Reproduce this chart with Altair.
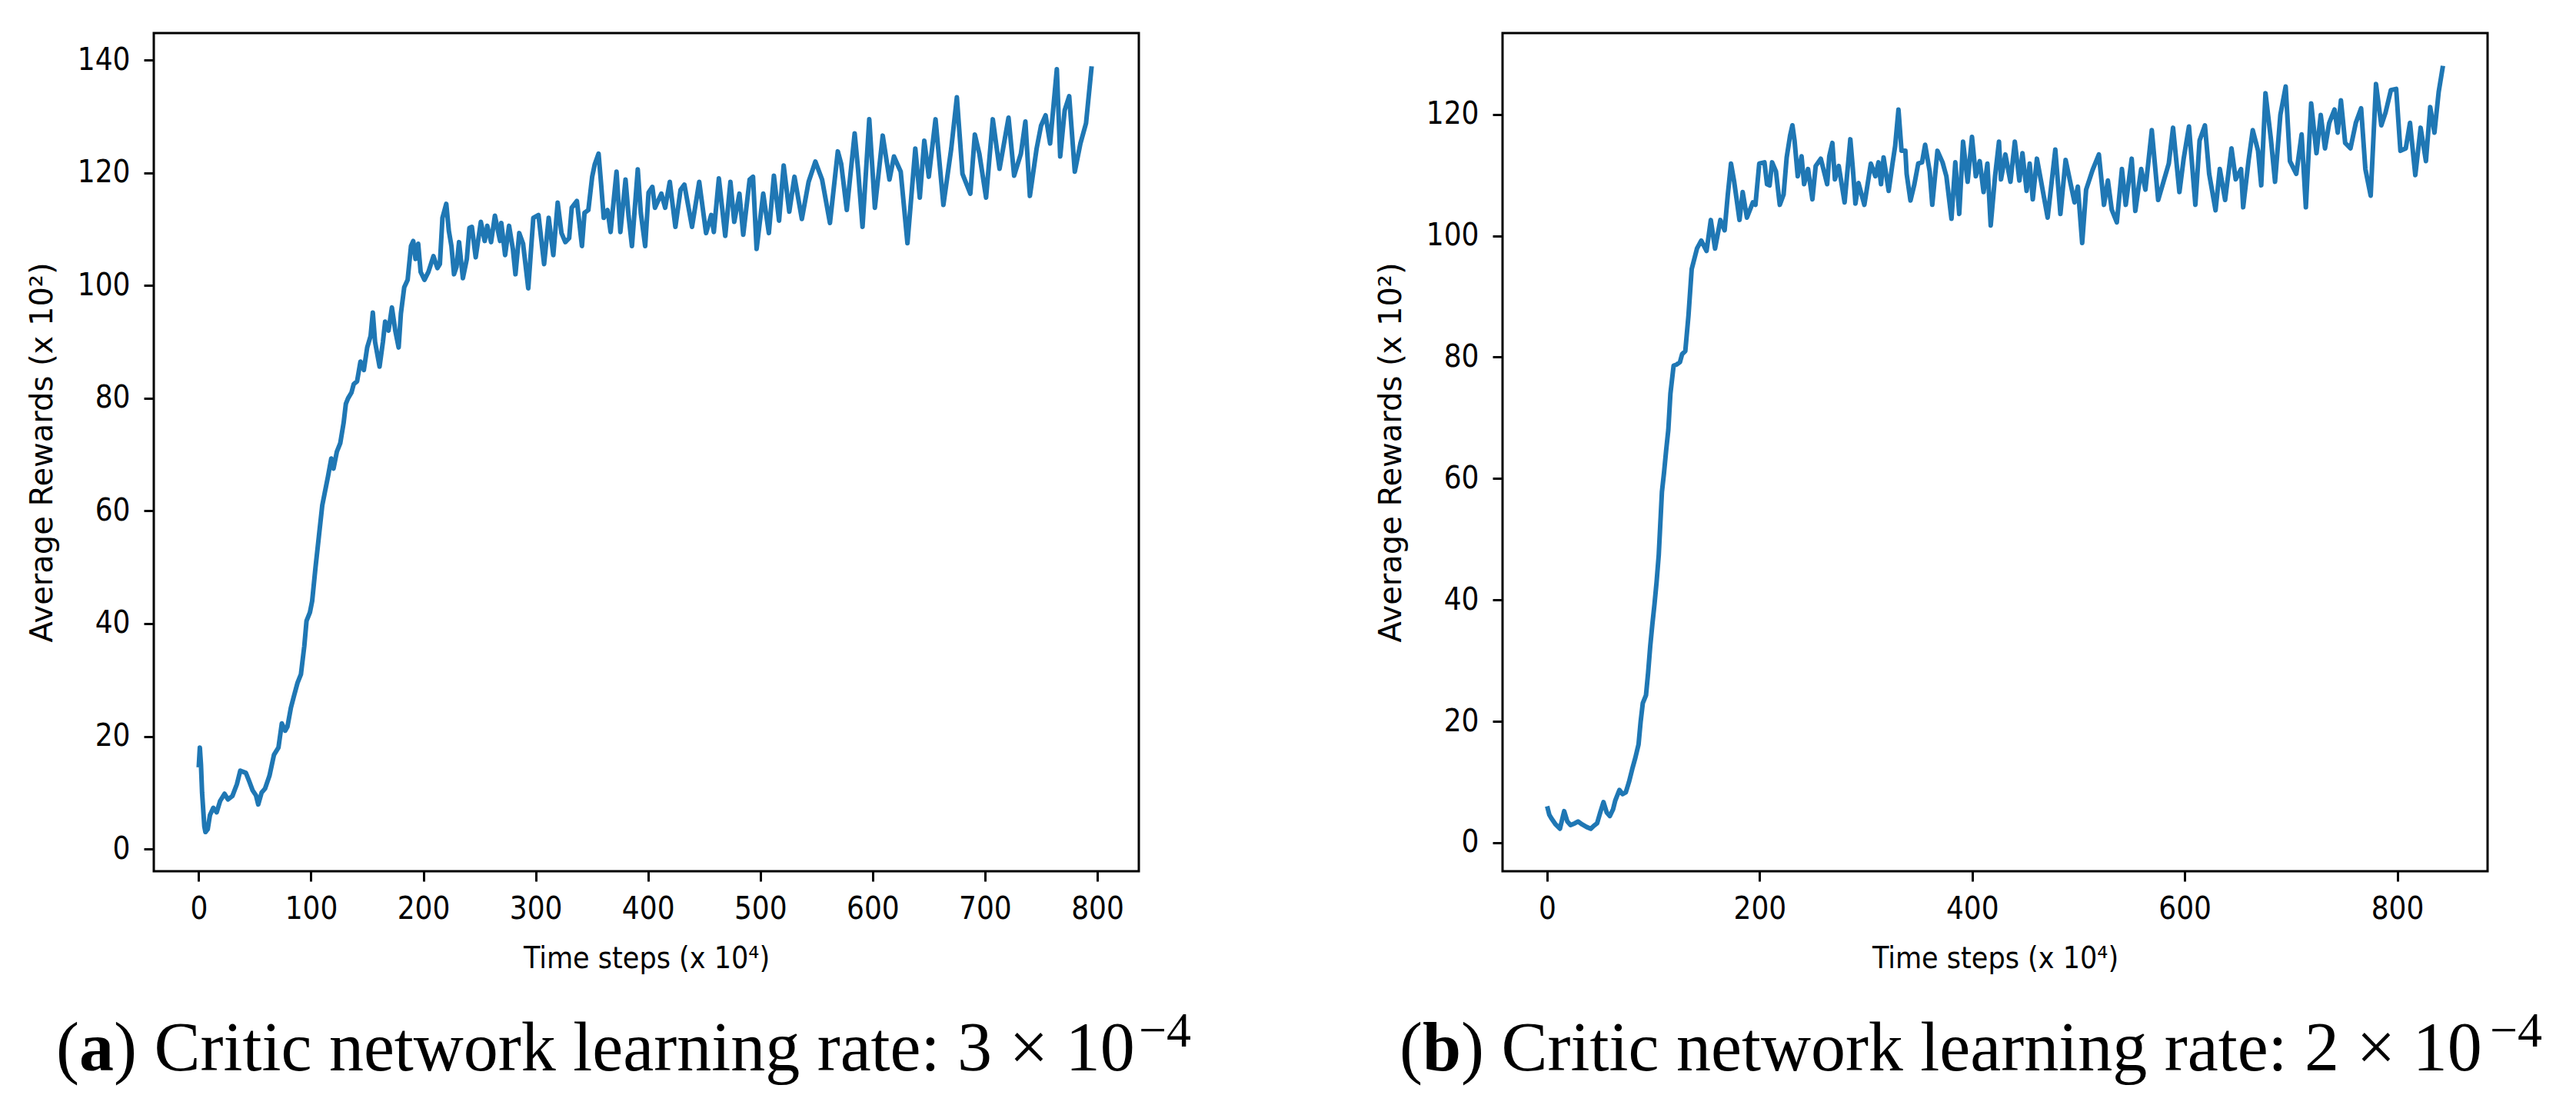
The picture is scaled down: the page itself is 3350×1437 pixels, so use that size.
import altair as alt
import pandas as pd

# ---------------- data ----------------
# panel (a): (time step x 10^4, average reward x 10^2)
LEFT_POINTS = [
    (0, 14.5), (1, 18.0), (2, 15.0), (3, 10.0), (5, 4.0), (6, 3.0), (8, 3.5), (10, 6.0), (13, 7.3), (16, 6.5),
    (19, 8.5), (23, 9.8), (26, 8.8), (30, 9.4), (34, 11.5), (37, 13.9), (42, 13.5), (45, 12.0), (48, 10.4), (51, 9.5),
    (53, 7.9), (56, 10.0), (59, 10.7), (63, 13.0), (67, 16.7), (71, 18.0), (74, 22.3), (77, 21.0), (79, 21.7), (82, 25.0),
    (85, 27.3), (88, 29.5), (91, 31.0), (94, 36.0), (96, 40.5), (99, 42.0), (101, 44.0), (104, 50.0), (107, 55.5), (110, 61.0),
    (112, 63.0), (115, 66.0), (118, 69.3), (120, 67.5), (123, 70.5), (126, 72.0), (129, 75.6), (131, 79.0), (133, 80.0), (136, 81.0),
    (138, 82.5), (141, 83.0), (144, 86.5), (147, 85.0), (150, 89.0), (153, 91.0), (155, 95.2), (157, 90.0), (161, 85.6), (164, 90.0),
    (166, 93.6), (169, 92.0), (172, 96.1), (175, 92.0), (178, 89.0), (180, 95.0), (183, 99.7), (186, 101.0), (189, 107.0),
    (191, 107.9), (193, 104.7), (195.4, 107.4), (197.6, 102.4), (201, 101.0), (204.5, 102.4), (209, 105.2), (212.5, 103.1),
    (214.7, 103.8), (217, 112.0), (220.4, 114.5), (222.7, 109.7), (225, 107.0), (227.3, 102.0), (229.5, 103.3), (231.8, 107.7),
    (235.2, 101.3), (238.7, 104.7), (241, 110.2), (243.2, 110.4), (246.6, 105.0), (251.2, 111.3), (254.6, 107.9), (256.9, 110.6),
    (260.3, 107.7), (263.7, 112.4), (268.3, 107.9), (269.4, 111.1), (272.8, 105.4), (276.3, 110.6), (279.7, 106.5), (282, 102.0),
    (285.4, 109.3), (288.8, 107.4), (293.4, 99.5), (297.9, 112.0), (302.5, 112.5), (307.5, 103.8), (311.6, 112.0), (315.7, 105.4),
    (319.6, 114.7), (323, 109.3), (326.4, 107.7), (329.8, 108.4), (332.1, 113.8), (336.7, 115.0), (341.2, 107.0), (343.5, 112.9),
    (346.9, 113.4), (350.3, 119.3), (352.6, 121.5), (356, 123.4), (358.3, 117.9), (360.6, 112.0), (364, 113.4), (366.7, 109.5),
    (372, 120.2), (375.4, 109.5), (380, 118.8), (382.7, 112.4), (385.7, 107.0), (390.9, 120.6), (393.6, 112.9), (397.5, 107.0),
    (400.5, 116.5), (403.9, 117.5), (406.2, 113.8), (411.9, 116.3), (415.3, 113.8), (419.4, 118.4), (424.4, 110.4), (429, 117.0),
    (432.4, 117.9), (439.2, 110.4), (445.6, 118.4), (451.7, 109.3), (456.3, 112.5), (458.6, 109.5), (463.1, 119.0), (468.8, 108.8),
    (473.4, 118.4), (476.8, 111.3), (481.4, 116.3), (484.8, 109.0), (490.5, 118.8), (493.5, 119.3), (496.7, 106.5), (502.6, 116.3),
    (507.6, 109.3), (512.1, 119.5), (516.7, 111.5), (520.8, 121.3), (525.8, 113.1), (530.4, 119.3),
    (537, 111.8), (543, 118.4), (549, 122.0), (555, 118.8), (562, 111.1), (569, 123.8), (572, 121.6), (577, 113.4), (584, 127.0),
    (587, 120.7), (591, 110.4), (597, 129.5), (602, 113.8), (609, 126.6), (615, 118.8), (619, 122.9), (625, 120.2), (631, 107.5),
    (638, 124.3), (642, 115.6), (646, 125.7), (650, 119.3), (656, 129.5), (663, 114.3), (670, 124.3), (675, 133.4), (680, 119.8),
    (687, 116.3), (691, 126.8), (695, 123.4), (701, 115.6), (707, 129.5), (713, 120.7), (721, 129.8), (726, 119.5), (732, 123.4),
    (736, 129.1), (740, 115.9), (746, 124.3), (750, 128.4), (754, 130.2), (758, 125.2), (764, 138.4), (767, 122.9), (771, 131.1),
    (775, 133.6), (780, 120.2), (785, 125.2), (790, 128.8), (795, 138.9),
]

# panel (b)
RIGHT_POINTS = [
    (0, 6.0), (2, 4.6), (4, 4.0), (8, 3.0), (12, 2.3), (16, 5.2), (19, 3.5), (22, 2.9), (26, 3.2), (29, 3.5),
    (33, 3.0), (37, 2.6), (41, 2.3), (44, 2.8), (47, 3.2), (50, 5.0), (53, 6.7), (56, 5.0), (59, 4.4), (62, 5.5),
    (64, 6.9), (68, 8.7), (71, 8.0), (74, 8.3), (77, 10.0), (80, 12.1), (83, 14.0), (86, 16.2), (88, 20.0), (90, 23.0),
    (93, 24.3), (95, 28.0), (97, 32.4), (99, 36.0), (101, 39.3), (103, 43.0), (105, 47.4), (108, 57.8), (110, 61.0), (112, 64.7),
    (114, 68.0), (116, 74.0), (119, 78.6), (122, 78.8), (125, 79.2), (127, 80.5), (130, 81.0), (133, 86.9), (136, 94.5), (141, 97.9),
    (145, 99.2), (150, 97.5), (154, 102.6), (158, 97.9), (163, 102.6), (167, 100.9), (170, 106.8), (173, 111.9), (176, 108.9), (181, 102.6),
    (184, 107.2), (188, 103.0),
    (193.6, 105.5), (196, 105.1), (199.6, 111.9), (204.5, 112.1), (206.9, 108.5), (209.3, 108.3), (211.7, 112.1), (215.3, 110.6),
    (218.9, 105.1), (222.5, 106.8), (225.4, 112.9), (228.6, 116.5), (230.8, 118.2), (232.8, 115.7), (235.8, 109.8), (239.4, 113.1),
    (241.8, 108.5), (245.5, 111.0), (249.6, 106.0), (252.7, 111.5), (257.5, 112.7), (263.5, 108.5), (265.5, 113.1), (268.4, 115.3),
    (270.8, 109.3), (274.4, 111.5), (279.9, 105.5), (285.3, 115.9), (287.7, 111.0), (290.1, 105.3), (293, 108.7), (298.5, 105.1),
    (304.6, 111.9), (308.9, 109.8), (311.8, 112.1), (314.2, 108.5), (316.6, 112.9), (321.4, 107.4), (325, 111.9), (327.5, 114.8),
    (330.6, 120.8), (333.5, 114.0), (337.1, 114.0), (338.3, 110.2), (341.9, 105.8), (345.6, 108.5), (349.2, 111.9), (352.8, 112.1),
    (355.7, 115.0), (360, 110.6), (362.4, 105.1), (367.3, 114.0), (372.1, 112.1), (375.7, 109.8), (380.5, 102.8), (384.1, 112.1),
    (387.8, 103.6), (391.4, 115.5), (395.7, 108.9), (399.8, 116.3), (403.4, 109.8), (407.1, 112.3), (410.7, 107.2), (414.3, 111.9),
    (417.4, 101.7), (421.5, 109.8), (425.2, 115.5), (427.1, 109.3), (431.2, 113.4), (436, 108.9), (440.1, 115.5), (444.4, 109.1),
    (447.3, 113.6), (451.2, 107.4), (454.1, 111.9), (457, 106.0), (460.9, 112.7), (464.9, 108.9), (471, 103.0), (478.2, 114.2),
    (483, 103.6), (487.9, 112.5), (492.7, 108.5), (496.3, 105.5), (499.4, 108.1), (503.5, 98.8), (507.2, 107.6), (513.2, 110.8),
    (519.2, 113.4), (524, 105.1), (527.7, 109.1), (531.3, 104.3), (536.1, 102.2), (540.9, 111.0), (544.5, 105.1), (550.1, 112.7),
    (553.5, 104.1),
    (559, 111.0), (563, 107.6), (569, 117.4), (575, 105.9), (580, 108.9), (585, 111.9), (589, 117.8), (595, 107.2), (599, 112.7),
    (604, 118.0), (610, 105.1), (614, 115.7), (619, 118.2), (623, 110.2), (629, 104.2), (633, 111.0), (638, 105.9), (644, 114.4),
    (648, 109.3), (653, 111.0), (655, 104.7), (660, 112.3), (664, 117.4), (669, 114.0), (672, 108.3), (676, 123.5), (681, 116.1),
    (685, 108.9), (690, 119.9), (695, 124.6), (699, 112.3), (705, 110.2), (710, 116.7), (714, 104.7), (719, 121.8), (724, 113.6),
    (728, 119.9), (732, 114.4), (736, 118.6), (741, 120.8), (744, 117.0), (747, 122.3), (751, 115.3), (756, 114.4), (761, 118.6),
    (766, 121.0), (770, 111.0), (775, 106.6), (780, 125.0), (785, 118.2), (789, 120.3), (794, 124.0), (799, 124.2), (803, 114.0),
    (808, 114.4), (812, 118.6), (817, 110.0), (822, 117.8), (827, 112.3), (831, 121.2), (835, 117.0), (839, 123.7), (843, 128.0),
]

LEFT_XTICKS = [0, 100, 200, 300, 400, 500, 600, 700, 800]
LEFT_YTICKS = [0, 20, 40, 60, 80, 100, 120, 140]
RIGHT_XTICKS = [0, 200, 400, 600, 800]
RIGHT_YTICKS = [0, 20, 40, 60, 80, 100, 120]

X_TITLE = "Time steps (x 10\u2074)"
Y_TITLE = "Average Rewards (x 10\u00b2)"
CAPTION_A = ["(", "a", ") Critic network learning rate: 3 \u00d7 10", "\u22124"]
CAPTION_B = ["(", "b", ") Critic network learning rate: 2 \u00d7 10", "\u22124"]

# ---------------- style ----------------
W, H = 1281, 1090
SANS_C = "DejaVu Sans Condensed, DejaVu Sans"
SERIF = "Liberation Serif"
CAP = 90


def caption_layer(segs, x0, bold_w, sup_x):
    offs = [x0, x0 + 0.333 * CAP, x0 + (0.333 + bold_w) * CAP]
    layers = []
    for seg, xo, wt in zip(segs[:3], offs, ["normal", "bold", "normal"]):
        layers.append(
            alt.Chart(pd.DataFrame({"s": [seg]}))
            .mark_text(align="left", baseline="alphabetic", font=SERIF,
                       fontSize=CAP, fontWeight=wt, color="black")
            .encode(x=alt.value(xo), y=alt.value(1349), text="s:N")
        )
    layers.append(
        alt.Chart(pd.DataFrame({"s": [segs[3]]}))
        .mark_text(align="left", baseline="alphabetic", font=SERIF,
                   fontSize=64, color="black")
        .encode(x=alt.value(sup_x), y=alt.value(1318), text="s:N")
    )
    return layers


def panel(points, xdom, ydom, xticks, yticks, caption, x0, bold_w, sup_x):
    df = pd.DataFrame(points, columns=["t", "r"])
    line = alt.Chart(df).mark_line(color="#1f77b4", strokeWidth=6, strokeJoin="round").encode(
        x=alt.X("t:Q",
                scale=alt.Scale(domain=xdom, nice=False, zero=False),
                axis=alt.Axis(values=xticks, title=X_TITLE, format="d")),
        y=alt.Y("r:Q",
                scale=alt.Scale(domain=ydom, nice=False, zero=False),
                axis=alt.Axis(values=yticks, title=Y_TITLE, format="d")),
    )
    return alt.layer(line, *caption_layer(caption, x0, bold_w, sup_x)).properties(width=W, height=H)


left = panel(LEFT_POINTS, [-40, 837], [-3.95, 144.8],
             LEFT_XTICKS, LEFT_YTICKS, CAPTION_A, -127, 0.5, 1281)
right = panel(RIGHT_POINTS, [-42, 885], [-4.7, 133.4],
              RIGHT_XTICKS, RIGHT_YTICKS, CAPTION_B, -134, 0.556, 1284)

chart = (
    alt.hconcat(left, right, spacing=473, bounds="flush")
    .properties(padding={"left": 25, "top": 33, "right": 5, "bottom": 5},
                background="white")
    .configure_view(stroke="black", strokeWidth=3, fill="white")
    .configure_axis(
        grid=False, domain=False,
        tickColor="black", tickWidth=3, tickSize=13,
        labelColor="black", labelFont=SANS_C, labelFontSize=40,
        titleColor="black", titleFontWeight="normal",
    )
    .configure_axisX(labelPadding=16, titleFont=SANS_C, titleFontSize=39, titlePadding=25)
    .configure_axisY(labelPadding=18, titleFont="DejaVu Sans", titleFontSize=40, titlePadding=25)
)

chart.save("out.html", embed_options={"renderer": "svg", "actions": False})
